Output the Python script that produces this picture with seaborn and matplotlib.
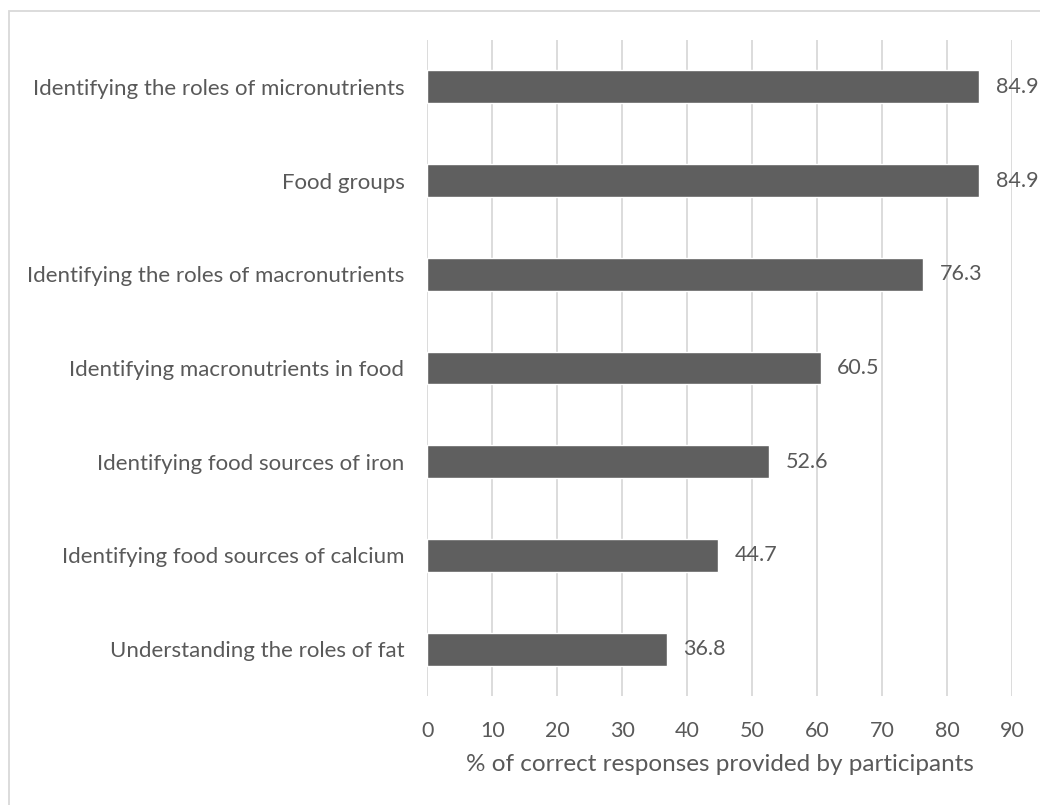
import matplotlib
matplotlib.use("Agg")
import matplotlib.pyplot as plt
import seaborn as sns
import pandas as pd
from matplotlib.patches import Rectangle

categories = [
    "Identifying the roles of micronutrients",
    "Food groups",
    "Identifying the roles of macronutrients",
    "Identifying macronutrients in food",
    "Identifying food sources of iron",
    "Identifying food sources of calcium",
    "Understanding the roles of fat",
]
values = [84.9, 84.9, 76.3, 60.5, 52.6, 44.7, 36.8]
x_ticks = [0, 10, 20, 30, 40, 50, 60, 70, 80, 90]
x_label = "% of correct responses provided by participants"

sns.set_theme(style="white")
plt.rcParams['font.family'] = ['Lato', 'DejaVu Sans']

TEXT = "#595959"
df = pd.DataFrame({"cat": categories, "val": values})

fig = plt.figure(figsize=(10.4, 8.05), dpi=100)
ax = fig.add_axes([427.3 / 1040, 1 - 696 / 805, 585 / 1040, 656 / 805])

sns.barplot(data=df, x="val", y="cat", orient="h", color="#5f5f5f",
            width=0.35, saturation=1, ax=ax, zorder=3)

ax.set_xlim(0, 90)
ax.set_xticks(x_ticks)
ax.grid(axis="x", color="#d9d9d9", linewidth=1.3, zorder=0)
ax.set_axisbelow(True)
for s in ax.spines.values():
    s.set_visible(False)
ax.tick_params(axis="both", length=0, colors=TEXT)
ax.tick_params(axis="y", pad=16.5, labelsize=16)
ax.tick_params(axis="x", pad=18, labelsize=15.5)
ax.set_ylabel("")
ax.set_xlabel(x_label, fontsize=17.5, color=TEXT, labelpad=9)

for c in ax.containers:
    ax.bar_label(c, labels=[f"{v:.1f}" for v in values], padding=12,
                 fontsize=15.5, color=TEXT)

fig.patches.append(Rectangle((9 / 1040, -0.01), 1.1, 1 - 11 / 805 + 0.01,
                             transform=fig.transFigure, fill=False,
                             edgecolor="#d9d9d9", linewidth=1.3))

fig.savefig("out.png", dpi=100)
